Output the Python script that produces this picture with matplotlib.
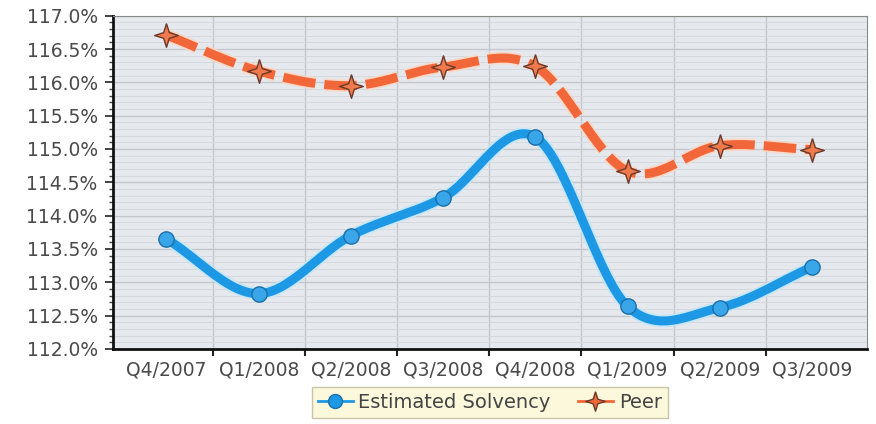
import numpy as np
import matplotlib
matplotlib.use("Agg")
import matplotlib.pyplot as plt
import matplotlib.patheffects as pe
from matplotlib.ticker import MultipleLocator, FuncFormatter

quarters = ["Q4/2007", "Q1/2008", "Q2/2008", "Q3/2008",
            "Q4/2008", "Q1/2009", "Q2/2009", "Q3/2009"]
solvency = [113.65, 112.83, 113.70, 114.27, 115.18, 112.64, 112.62, 113.23]
peer = [116.71, 116.17, 115.95, 116.23, 116.24, 114.67, 115.05, 114.99]


def smooth(y, n=30):
    # catmull-rom curve through the points, only used for drawing the line
    y = np.asarray(y, float)
    x = np.arange(len(y), dtype=float)
    p = np.concatenate([[2 * y[0] - y[1]], y, [2 * y[-1] - y[-2]]])
    xs, ys = [], []
    t = np.linspace(0, 1, n, endpoint=False)
    for i in range(len(y) - 1):
        p0, p1, p2, p3 = p[i], p[i + 1], p[i + 2], p[i + 3]
        seg = 0.5 * (2 * p1 + (-p0 + p2) * t + (2 * p0 - 5 * p1 + 4 * p2 - p3) * t ** 2
                     + (-p0 + 3 * p1 - 3 * p2 + p3) * t ** 3)
        xs.append(x[i] + t)
        ys.append(seg)
    xs.append([x[-1]])
    ys.append([y[-1]])
    return np.concatenate(xs), np.concatenate(ys)


fig = plt.figure(figsize=(8.76, 4.24), dpi=100)
ax = fig.add_axes([0.129, 0.177, 0.861, 0.786])
ax.set_facecolor("#e5e8ed")

blue = "#1d98e4"
orange = "#f2673a"
star = [(0, 1), (0.24, 0.24), (1, 0), (0.24, -0.24), (0, -1), (-0.24, -0.24), (-1, 0), (-0.24, 0.24), (0, 1)]

sx, sy = smooth(solvency)
ax.plot(sx, sy, color=blue, lw=6.5, solid_capstyle="round", zorder=3,
        path_effects=[pe.Stroke(linewidth=9, foreground="#c6e6fa"), pe.Normal()])
ax.plot(range(len(quarters)), solvency, ls="none", marker="o", ms=11,
        mfc="#3aa6ea", mec="#1b6fa8", mew=1, zorder=4)

px, py = smooth(peer)
ax.plot(px, py, color=orange, lw=6.5, ls=(0, (3.6, 1.0)), zorder=3,
        path_effects=[pe.Stroke(linewidth=9, foreground="#fbd9c8"), pe.Normal()])
ax.plot(range(len(quarters)), peer, ls="none", marker=star, ms=17,
        mfc="#f07a4c", mec="#6b3a2a", mew=1, zorder=4)

ax.set_xlim(-0.58, 7.6)
ax.set_ylim(112.0, 117.0)
ax.set_xticks(range(len(quarters)))
ax.set_xticklabels(quarters)
ax.set_xticks(np.arange(0.5, 7, 1), minor=True)
ax.tick_params(axis="x", which="major", length=0, pad=8, labelsize=13.5, labelcolor="#4a4a4a")
ax.tick_params(axis="x", which="minor", length=5, width=1.5, color="#222222", direction="out")
ax.yaxis.set_major_locator(MultipleLocator(0.5))
ax.yaxis.set_minor_locator(MultipleLocator(0.1))
ax.yaxis.set_major_formatter(FuncFormatter(lambda v, _: f"{v:.1f}%"))
ax.tick_params(axis="y", which="major", length=6, width=1.2, color="#222222", pad=5,
               labelsize=13.5, labelcolor="#4a4a4a")
ax.tick_params(axis="y", which="minor", length=3, width=1, color="#444444")

ax.grid(axis="y", which="major", color="#c4c8ce", lw=1)
ax.grid(axis="y", which="minor", color="#d5d9de", lw=0.7)
ax.grid(axis="x", which="minor", color="#c4c8ce", lw=1)
ax.set_axisbelow(True)

ax.spines["left"].set_color("#111111")
ax.spines["left"].set_linewidth(2)
ax.spines["bottom"].set_color("#111111")
ax.spines["bottom"].set_linewidth(2)
ax.spines["top"].set_color("#888888")
ax.spines["right"].set_color("#888888")

h1, = ax.plot([], [], color=blue, lw=2, marker="o", ms=10, mfc=blue, mec="#1b6fa8")
h2, = ax.plot([], [], color=orange, lw=2, marker=star, ms=14, mfc=orange, mec="#6b3a2a")
leg = fig.legend([h1, h2], ["Estimated Solvency", "Peer"], loc="center",
                 bbox_to_anchor=(0.559, 0.05), ncol=2, frameon=True, fancybox=False,
                 facecolor="#fbf8dc", edgecolor="#c8c4a8", fontsize=14,
                 handlelength=1.8, handletextpad=0.3, columnspacing=1.4,
                 borderpad=0.3)
for t in leg.get_texts():
    t.set_color("#444444")
leg.get_frame().set_alpha(1)

fig.savefig("out.png", dpi=100)
